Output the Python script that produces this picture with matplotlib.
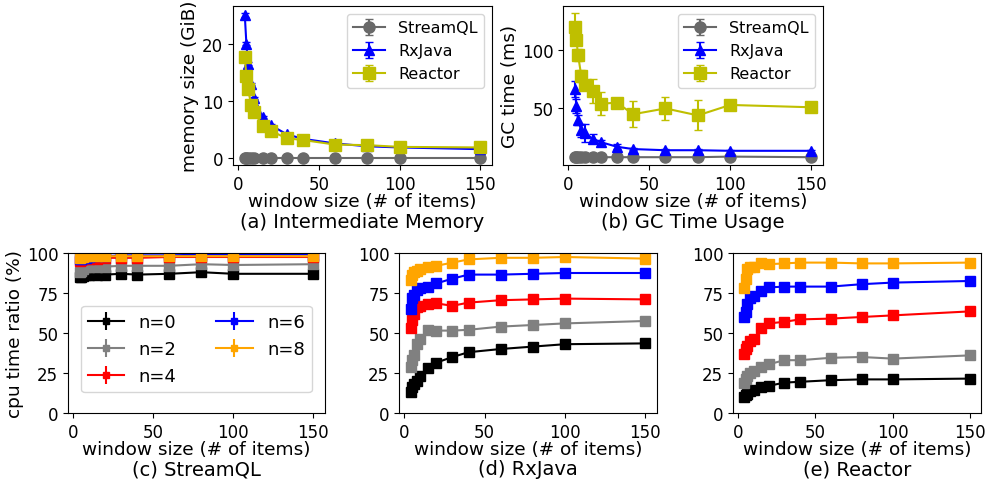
import matplotlib
matplotlib.use("Agg")
import matplotlib.pyplot as plt

plt.rcParams['font.family'] = ['DejaVu Sans']

window = [4, 5, 6, 8, 10, 15, 20, 30, 40, 60, 80, 100, 150]

# (a) memory (GiB)
mem_streamql = [0.1, 0.1, 0.1, 0.1, 0.1, 0.1, 0.1, 0.1, 0.1, 0.1, 0.1, 0.1, 0.1]
mem_rxjava = [25.0, 20.0, 16.5, 13.0, 10.5, 7.2, 5.8, 4.2, 3.4, 2.6, 2.1, 1.9, 1.6]
mem_reactor = [17.7, 14.3, 12.1, 9.3, 8.0, 5.7, 4.8, 3.5, 3.2, 2.4, 2.3, 2.0, 1.9]
mem_err_streamql = [0.0] * 13
mem_err_rxjava = [0.3, 0.3, 0.3, 0.2, 0.2, 0.2, 0.2, 0.2, 0.2, 0.2, 0.1, 0.1, 0.1]
mem_err_reactor = [0.3, 0.3, 0.3, 0.2, 0.2, 0.2, 0.2, 0.2, 0.2, 0.2, 0.1, 0.1, 0.1]

# (b) GC time (ms)
gc_streamql = [8, 8, 8, 8, 8, 8, 8, 8, 8, 8, 8, 8.5, 8]
gc_rxjava = [67, 52, 40, 31, 29, 24, 21, 17, 15, 14, 14, 13.5, 13.5]
gc_reactor = [120, 109, 96, 78, 70, 65, 54, 55, 45, 50, 44, 53, 51]
gc_err_streamql = [0.5, 0.5, 0.5, 0.5, 0.5, 0.5, 0.5, 0.5, 0.5, 0.5, 0.5, 0.5, 0.5]
gc_err_rxjava = [7, 6, 4, 6, 8, 4, 2, 2, 1, 1, 1, 1, 1]
gc_err_reactor = [12, 4, 5, 5, 4, 10, 10, 2, 11, 10, 13, 2, 2]

series_names = ["StreamQL", "RxJava", "Reactor"]

# cpu time ratio (%), n = 0,2,4,6,8
n_labels = ["n=0", "n=2", "n=4", "n=6", "n=8"]
n_colors = ["black", "gray", "red", "blue", "orange"]

cpu_streamql = [
    [85, 85, 85.5, 86, 86.5, 86.5, 86.5, 87, 86.5, 87, 88, 87, 87],
    [88, 89, 90, 91, 91, 91.5, 91.5, 92, 92, 92, 93, 92.5, 93],
    [95, 95.5, 96, 96, 96.5, 96.5, 97, 97, 97, 97.5, 97.5, 97.5, 97.5],
    [96, 96.5, 97, 97, 97.5, 98, 98, 98.5, 98.5, 98.5, 99, 99, 99],
    [97, 97.5, 97.5, 98, 98, 98, 98, 98, 98, 98, 98, 98, 98],
]
cpu_rxjava = [
    [13, 16, 18, 20, 23, 28, 31.5, 35, 38, 40, 41.5, 43, 43.5],
    [29, 33, 36, 43, 46, 52, 51.5, 51.5, 52, 54, 55, 56, 57.5],
    [53, 58, 62, 66, 67, 68, 68.5, 67, 69, 70.5, 71, 71.5, 71],
    [65, 72, 74, 77, 78, 79, 81, 84, 86.5, 86.5, 87, 87.5, 87.5],
    [83, 86, 88, 89, 90, 91, 92, 94, 96, 97, 97, 97.5, 96.5],
]
cpu_reactor = [
    [10, 11, 12, 13.5, 14.5, 16, 17, 19, 19.5, 20.5, 21, 21, 21.5],
    [19, 21, 23, 25, 26.5, 29, 30.5, 33, 33, 34.5, 35, 34, 36],
    [37, 40, 42, 45, 46, 53, 56, 57, 58.5, 59, 60, 61, 63.5],
    [60, 63, 68, 72, 73, 76, 78.5, 79, 79, 79, 80.5, 81.5, 82.5],
    [78, 84, 90, 91, 91.5, 93.5, 93, 93.5, 94, 94, 93.5, 93.5, 94],
]
cpu_err = [1, 1, 1, 1.5, 1.5, 1.5, 1.5, 1, 1, 1, 1, 1, 1]
cpu_err_e6 = [1, 1, 1, 1, 1, 1, 1, 1, 1, 3, 1, 1, 1]

captions = ["(a) Intermediate Memory", "(b) GC Time Usage",
            "(c) StreamQL", "(d) RxJava", "(e) Reactor"]

W, H = 997, 485
fig = plt.figure(figsize=(W / 100, H / 100), dpi=100)


def px_axes(x0, y0, x1, y1):
    return fig.add_axes([x0 / W, 1 - y1 / H, (x1 - x0) / W, (y1 - y0) / H])


TICK_FS = 12
LABEL_FS = 13.3
CAP_FS = 14

top_styles = [("dimgray", "o", 8), ("blue", "^", 7.5), ("y", "s", 8.5)]

ax_a = px_axes(233, 7, 492, 166)
ax_b = px_axes(563, 7, 823, 166)

for ax, vals, errs, ylabel in [
    (ax_a, [mem_streamql, mem_rxjava, mem_reactor],
     [mem_err_streamql, mem_err_rxjava, mem_err_reactor], "memory size (GiB)"),
    (ax_b, [gc_streamql, gc_rxjava, gc_reactor],
     [gc_err_streamql, gc_err_rxjava, gc_err_reactor], "GC time (ms)"),
]:
    for (c, m, ms), v, e, name in zip(top_styles, vals, errs, series_names):
        ax.errorbar(window, v, yerr=e, color=c, marker=m, markersize=ms,
                    capsize=3, linewidth=1.5, label=name)
    ax.set_xlabel("window size (# of items)", fontsize=LABEL_FS, labelpad=-0.5)
    ax.set_ylabel(ylabel, fontsize=LABEL_FS, labelpad=2)
    ax.tick_params(labelsize=TICK_FS)
    ax.set_xticks([0, 50, 100, 150])
    ax.legend(loc="upper right", fontsize=11.5)

ax_a.set_yticks([0, 10, 20])
ax_b.set_yticks([50, 100])

ax_c = px_axes(68, 254, 325, 414)
ax_d = px_axes(399, 254, 657, 414)
ax_e = px_axes(733, 254, 981, 414)

for ax, data in [(ax_c, cpu_streamql), (ax_d, cpu_rxjava), (ax_e, cpu_reactor)]:
    for i, (v, c, lab) in enumerate(zip(data, n_colors, n_labels)):
        err = cpu_err_e6 if (ax is ax_e and i == 3) else cpu_err
        ax.errorbar(window, v, yerr=err, color=c, marker="s", markersize=6.5,
                    linewidth=1.5, label=lab)
    ax.set_ylim(0, 100)
    ax.set_yticks([0, 25, 50, 75, 100])
    ax.set_xticks([0, 50, 100, 150])
    ax.set_xlabel("window size (# of items)", fontsize=LABEL_FS, labelpad=-0.5)
    ax.tick_params(labelsize=TICK_FS)

ax_c.set_ylabel("cpu time ratio (%)", fontsize=LABEL_FS, labelpad=2)
ax_c.legend(loc="center", bbox_to_anchor=(0.5, 0.4), ncol=2, fontsize=13,
            markerscale=0.75, columnspacing=2.2)

for ax, cap, ycap in [(ax_a, captions[0], 223), (ax_b, captions[1], 223),
                      (ax_c, captions[2], 470), (ax_d, captions[3], 470),
                      (ax_e, captions[4], 470)]:
    pos = ax.get_position()
    fig.text(pos.x0 + pos.width / 2, 1 - ycap / H, cap, ha="center",
             va="center", fontsize=CAP_FS)

fig.savefig("out.png", dpi=100)
